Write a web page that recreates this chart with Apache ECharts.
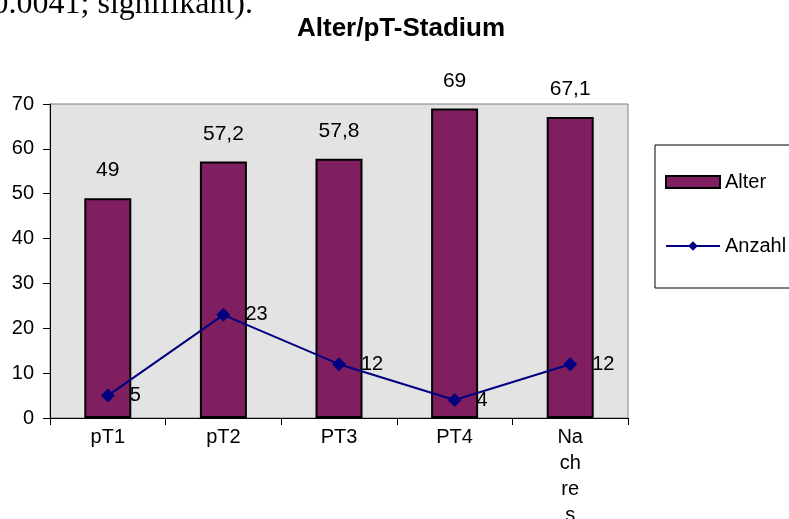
<!DOCTYPE html>
<html>
<head>
<meta charset="utf-8">
<script src="https://cdn.jsdelivr.net/npm/echarts@6/dist/echarts.min.js"></script>
<style>
  html, body { margin: 0; padding: 0; background: #fff; }
  #chart { width: 789px; height: 519px; }
</style>
</head>
<body>
<div id="chart"></div>
<script>
// Stage categories and the two series
const categories = ['pT1', 'pT2', 'PT3', 'PT4', 'Nachres'];
const alterValues = [49, 57.2, 57.8, 69, 67.1];
const anzahlValues = [5, 23, 12, 4, 12];
const yTicks = { min: 0, max: 70, interval: 10 };

const FONT = '"Liberation Sans", Arial, sans-serif';

const chart = echarts.init(document.getElementById('chart'));

chart.setOption({
  animation: false,
  backgroundColor: '#ffffff',
  title: {
    text: 'Alter/pT-Stadium',
    left: 396,
    textAlign: 'center',
    top: 11,
    textStyle: { fontFamily: FONT, fontSize: 26, fontWeight: 'bold', color: '#000' }
  },
  graphic: [{
    type: 'text',
    x: 253,
    y: 21,
    style: {
      text: '0.0041; signifikant).',
      font: '32px "Liberation Serif", "Times New Roman", serif',
      align: 'right',
      verticalAlign: 'bottom',
      fill: '#000'
    }
  }],
  legend: {
    orient: 'vertical',
    left: 655,
    top: 145,
    padding: [27, 80, 32, 10],
    itemGap: 44,
    itemWidth: 54,
    itemHeight: 12,
    borderColor: '#000',
    borderWidth: 1,
    backgroundColor: '#fff',
    textStyle: { fontFamily: FONT, fontSize: 20, color: '#000' },
    data: [
      { name: 'Alter', icon: 'rect' },
      { name: 'Anzahl' }
    ]
  },
  grid: {
    left: 50,
    top: 104,
    right: 161,
    bottom: 101,
    containLabel: false,
    outerBoundsMode: 'none',
    show: true,
    backgroundColor: '#e3e3e3',
    borderColor: '#808080',
    borderWidth: 1
  },
  xAxis: {
    type: 'category',
    data: categories,
    axisLine: { lineStyle: { color: '#000', width: 1 } },
    axisTick: { show: true, length: 7, lineStyle: { color: '#000' } },
    axisLabel: {
      fontFamily: FONT,
      fontSize: 20,
      color: '#000',
      margin: 6,
      lineHeight: 26,
      interval: 0,
      formatter: function (v) {
        if (v.length <= 4) return v;
        return v.match(/.{1,2}/g).join('\n');
      }
    }
  },
  yAxis: {
    type: 'value',
    min: yTicks.min,
    max: yTicks.max,
    interval: yTicks.interval,
    axisLine: { show: true, lineStyle: { color: '#000', width: 1 } },
    axisTick: { show: true, length: 7, lineStyle: { color: '#000' } },
    splitLine: { show: false },
    axisLabel: { fontFamily: FONT, fontSize: 20, color: '#000', margin: 16 }
  },
  series: [
    {
      name: 'Alter',
      type: 'bar',
      data: alterValues,
      barWidth: 47,
      itemStyle: { color: '#801f5f', borderColor: '#000', borderWidth: 2 },
      label: {
        show: true,
        position: 'top',
        distance: 17,
        fontFamily: FONT,
        fontSize: 21,
        color: '#000',
        formatter: function (p) { return String(p.value).replace('.', ','); }
      }
    },
    {
      name: 'Anzahl',
      type: 'line',
      data: anzahlValues,
      symbol: 'diamond',
      symbolSize: 14,
      itemStyle: { color: '#000080' },
      lineStyle: { color: '#000080', width: 2 },
      label: {
        show: true,
        position: 'right',
        distance: 15,
        fontFamily: FONT,
        fontSize: 20,
        color: '#000'
      },
      z: 5
    }
  ]
});
</script>
</body>
</html>
